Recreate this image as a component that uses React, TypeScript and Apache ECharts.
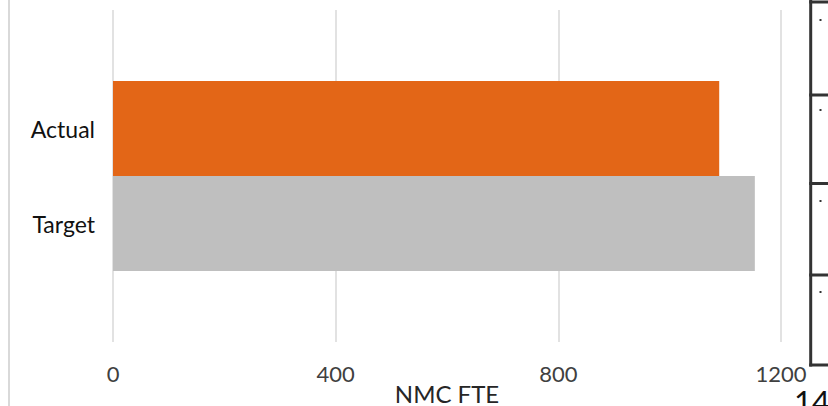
import React, { useEffect, useRef } from "react";
import * as echarts from "echarts";

const categories = ["Actual", "Target"];
const values = [1089, 1153];
const xTicks = { min: 0, max: 1200, interval: 400 };
const axisTitle = "NMC FTE";
const pageNumber = "14";

const FONT = "Lato, 'Liberation Sans', sans-serif";

export default function App() {
  const ref = useRef<HTMLDivElement>(null);
  useEffect(() => {
    document.body.style.margin = "0";
    const chart = echarts.init(ref.current!, null, { renderer: "svg" });
    const barColors = ["#E36617", "#BFBFBF"];
    const rowLines = [2, 95, 183.5, 275, 365];
    const dots = [20, 110, 201, 292];
    chart.setOption({
      animation: false,
      textStyle: { fontFamily: FONT },
      grid: [
        { left: 113, right: 47, top: 10, bottom: 64, containLabel: false, outerBoundsMode: "none" },
        { left: 113, right: 47, top: 81, bottom: 135, containLabel: false, outerBoundsMode: "none" },
      ],
      xAxis: [
        {
          type: "value",
          gridIndex: 0,
          min: xTicks.min,
          max: xTicks.max,
          interval: xTicks.interval,
          axisLine: { show: false },
          axisTick: { show: false },
          splitLine: { lineStyle: { color: "#D9D9D9", width: 1.5 } },
          axisLabel: {
            fontSize: 22,
            color: "#404040",
            margin: 20,
            fontFamily: FONT,
            formatter: (v: number) => String(v),
          },
          name: axisTitle,
          nameLocation: "middle",
          nameGap: 39,
          nameMoveOverlap: false,
          nameTextStyle: { fontSize: 24, color: "#262626", fontFamily: FONT },
        },
        {
          type: "value",
          gridIndex: 1,
          min: xTicks.min,
          max: xTicks.max,
          show: false,
        },
      ],
      yAxis: [
        { type: "category", gridIndex: 0, data: [""], show: false },
        {
          type: "category",
          gridIndex: 1,
          data: categories,
          inverse: true,
          axisLine: { show: false },
          axisTick: { show: false },
          axisLabel: { fontSize: 23, color: "#111111", margin: 18, fontFamily: FONT },
        },
      ],
      series: [
        {
          type: "bar",
          xAxisIndex: 1,
          yAxisIndex: 1,
          barWidth: "100%",
          data: values.map((v, i) => ({ value: v, itemStyle: { color: barColors[i] } })),
        },
      ],
      graphic: [
        {
          type: "line",
          shape: { x1: 9, y1: 0, x2: 9, y2: 406 },
          style: { stroke: "#D9D9D9", lineWidth: 2 },
          silent: true,
        },
        {
          type: "line",
          shape: { x1: 810.7, y1: 0, x2: 810.7, y2: 366.5 },
          style: { stroke: "#333333", lineWidth: 3 },
          silent: true,
        },
        ...rowLines.map((y) => ({
          type: "line",
          shape: { x1: 809.2, y1: y, x2: 828, y2: y },
          style: { stroke: "#333333", lineWidth: 3 },
          silent: true,
        })),
        ...dots.map((y) => ({
          type: "rect",
          shape: { x: 819.5, y: y - 1, width: 2, height: 2 },
          style: { fill: "#333333" },
          silent: true,
        })),
        {
          type: "text",
          x: 794,
          y: 385,
          style: {
            text: pageNumber,
            fontSize: 31,
            fill: "#111111",
            fontFamily: FONT,
            verticalAlign: "top",
            align: "left",
          },
          silent: true,
        },
      ],
    });
    return () => chart.dispose();
  }, []);
  return <div ref={ref} style={{ width: 828, height: 406 }} />;
}
